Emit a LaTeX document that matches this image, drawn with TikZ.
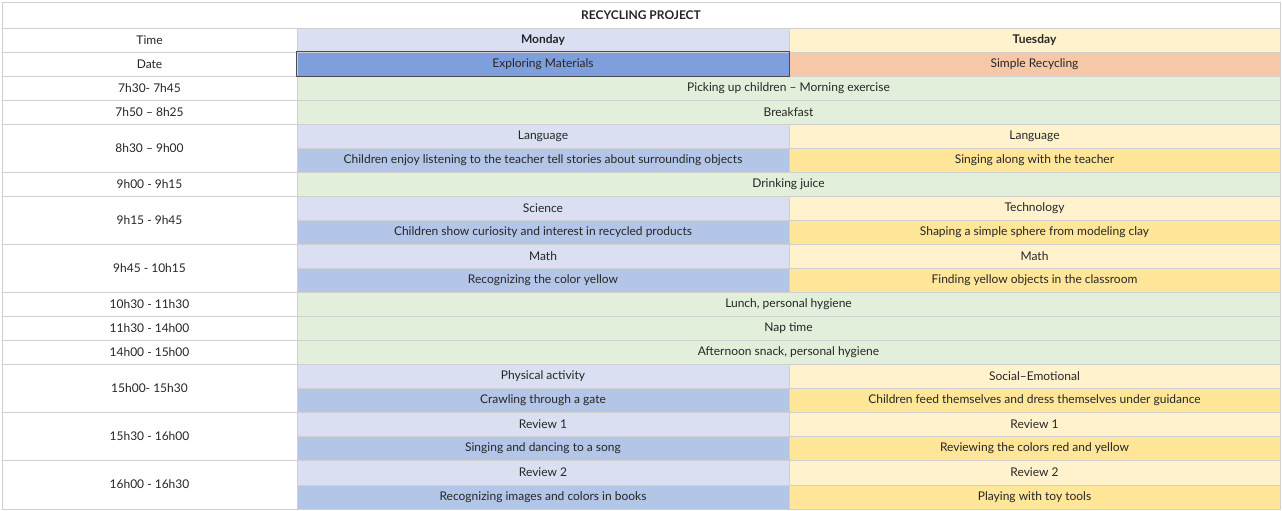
\documentclass[tikz,border=0pt]{standalone}
\usepackage{fontspec}
\setmainfont{Lato}
\definecolor{hdblue}{HTML}{DAE0F2}
\definecolor{dtblue}{HTML}{7F9FDC}
\definecolor{cnblue}{HTML}{B4C6E7}
\definecolor{hdyel}{HTML}{FFF2CC}
\definecolor{dtpeach}{HTML}{F7C8A8}
\definecolor{cnyel}{HTML}{FFE699}
\definecolor{rowgreen}{HTML}{E2EFDA}
\definecolor{gridgray}{HTML}{D0D0D0}
\tikzset{cell/.style={draw=gridgray, line width=0.6pt, inner sep=0pt, font=\fontsize{12}{14}\selectfont, text=black!85}}
% \cell{name}{fill}{x0}{x1}{y0}{y1}{text}
\newcommand\cell[7]{\node[cell, fill=#2, minimum width={(#4-#3)*1pt}, minimum height={(#6-#5)*1pt}]
  (#1) at ({(#3+#4)/2},{-(#5+#6)/2}) {#7};}
\begin{document}
\begin{tikzpicture}[x=1pt,y=1pt]
  \useasboundingbox (0,0) rectangle (1282,-511);
  \cell{title}{white}{2}{1280}{2}{28}{\textbf{RECYCLING PROJECT}}
  \cell{time}{white}{2}{297}{28}{52}{Time}
  \cell{mon}{hdblue}{297}{789}{28}{52}{\textbf{Monday}}
  \cell{tue}{hdyel}{789}{1280}{28}{52}{\textbf{Tuesday}}
  \cell{date}{white}{2}{297}{52}{76}{Date}
  \cell{mondate}{dtblue}{297}{789}{52}{76}{Exploring Materials}
  \cell{tuedate}{dtpeach}{789}{1280}{52}{76}{Simple Recycling}
  % whole-day rows
  \foreach \nm/\ya/\yb/\tm/\act in {
      r1/76/100/7h30- 7h45/Picking up children – Morning exercise,
      r2/100/124/7h50 – 8h25/Breakfast,
      r4/172/196/9h00 - 9h15/Drinking juice / eating fruit,
      r7/292/316/10h30 - 11h30/{Lunch, personal hygiene},
      r8/316/340/11h30 - 14h00/Nap time,
      r9/340/364/14h00 - 15h00/{Afternoon snack, personal hygiene}} {
    \cell{\nm-t}{white}{2}{297}{\ya}{\yb}{\tm}
    \cell{\nm-a}{rowgreen}{297}{1280}{\ya}{\yb}{\act}
  }
  % split rows
  \foreach \nm/\ya/\ym/\yb/\tm/\ms/\ma/\ts/\ta in {
      r3/124/148/172/8h30 – 9h00/Language/Children enjoy listening to the teacher tell stories about surrounding objects/Language/Singing along with the teacher,
      r5/196/220/244/9h15 - 9h45/Science/Children show curiosity and interest in recycled products/Technology/Shaping a simple sphere from modeling clay,
      r6/244/268/292/9h45 - 10h15/Math/Recognizing the color yellow/Math/Finding yellow objects in the classroom,
      r10/364/388/412/15h00- 15h30/Physical activity/Crawling through a gate/Social–Emotional/Children feed themselves and dress themselves under guidance,
      r11/412/436/460/15h30 - 16h00/Review 1/Singing and dancing to a song/Review 1/Reviewing the colors red and yellow,
      r12/460/485/509/16h00 - 16h30/Review 2/Recognizing images and colors in books/Review 2/Playing with toy tools} {
    \cell{\nm-t}{white}{2}{297}{\ya}{\yb}{\tm}
    \cell{\nm-ms}{hdblue}{297}{789}{\ya}{\ym}{\ms}
    \cell{\nm-ma}{cnblue}{297}{789}{\ym}{\yb}{\ma}
    \cell{\nm-ts}{hdyel}{789}{1280}{\ya}{\ym}{\ts}
    \cell{\nm-ta}{cnyel}{789}{1280}{\ym}{\yb}{\ta}
  }
  \draw[black!70, line width=0.8pt] (mondate.south west) rectangle (mondate.north east);
\end{tikzpicture}
\end{document}
